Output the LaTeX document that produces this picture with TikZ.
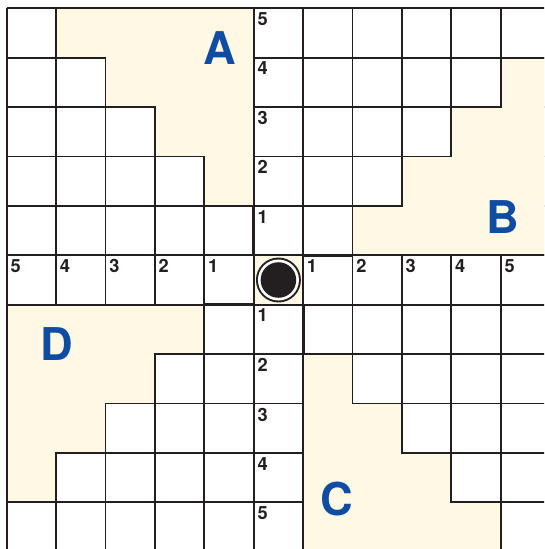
\documentclass[tikz,border=0pt]{standalone}
\usepackage{fontspec}
\setsansfont{TeX Gyre Heros}
\usetikzlibrary{positioning}
\definecolor{cream}{RGB}{255,248,229}
\definecolor{letterblue}{RGB}{14,77,162}
\definecolor{ink}{RGB}{35,31,32}
\newcommand{\axfont}{\sffamily\bfseries\fontsize{10.5}{12}\selectfont}
\newcommand{\regfont}{\sffamily\bfseries\fontsize{26}{30}\selectfont}

\begin{document}
\begin{tikzpicture}[x=1cm,y=-1cm,
  region/.style={fill=cream,draw=ink,line width=1.1pt},
  axnum/.style={anchor=north west,inner sep=0pt,text=ink,font=\axfont},
  regname/.style={inner sep=0pt,text=letterblue,font=\regfont}]
\useasboundingbox (-0.136,-0.168) rectangle (10.877,10.945);
\clip (-0.136,-0.168) rectangle (10.877,10.945);
% grid
\draw[ink,line width=1.1pt] (0,0) grid (11,11);
% shaded regions
\filldraw[region] (1,0)--(5,0)--(5,4)--(4,4)--(4,3)--(3,3)--(3,2)--(2,2)--(2,1)--(1,1)--cycle;
\filldraw[region] (10,1)--(11,1)--(11,5)--(7,5)--(7,4)--(8,4)--(8,3)--(9,3)--(9,2)--(10,2)--cycle;
\filldraw[region] (6,7)--(7,7)--(7,8)--(8,8)--(8,9)--(9,9)--(9,10)--(10,10)--(10,11)--(6,11)--cycle;
\filldraw[region] (0,6)--(4,6)--(4,7)--(3,7)--(3,8)--(2,8)--(2,9)--(1,9)--(1,10)--(0,10)--cycle;
\filldraw[region] (5,5) rectangle (6,6);
\draw[ink,line width=1.8pt] (6,5)--(7,5); \draw[ink,line width=1.8pt] (4,6)--(5,6);
\draw[ink,line width=1.8pt] (5,4)--(5,5); \draw[ink,line width=1.8pt] (6,6)--(6,7);
% axis numbers
\foreach \i in {1,...,5} {
  \node[axnum] (up\i) at (5.07,{5.08-\i}) {\i};
  \node[axnum] (dn\i) at (5.07,{5.08+\i}) {\i};
  \node[axnum] (lt\i) at ({5.07-\i},5.08) {\i};
  \node[axnum] (rt\i) at ({5.07+\i},5.08) {\i};
}
% centre counter
\fill[ink] (5.5,5.5) circle (0.455); \fill[white] (5.5,5.5) circle (0.415);
\fill[ink] (5.5,5.5) circle (0.36);
% region names
\node[regname] (regA) at (4.32,0.80) {A};
\node[regname] (regB) at (10.05,4.22) {B};
\node[regname] (regC) at (6.69,9.93) {C};
\node[regname] (regD) at (1.01,6.79) {D};
\end{tikzpicture}
\end{document}
